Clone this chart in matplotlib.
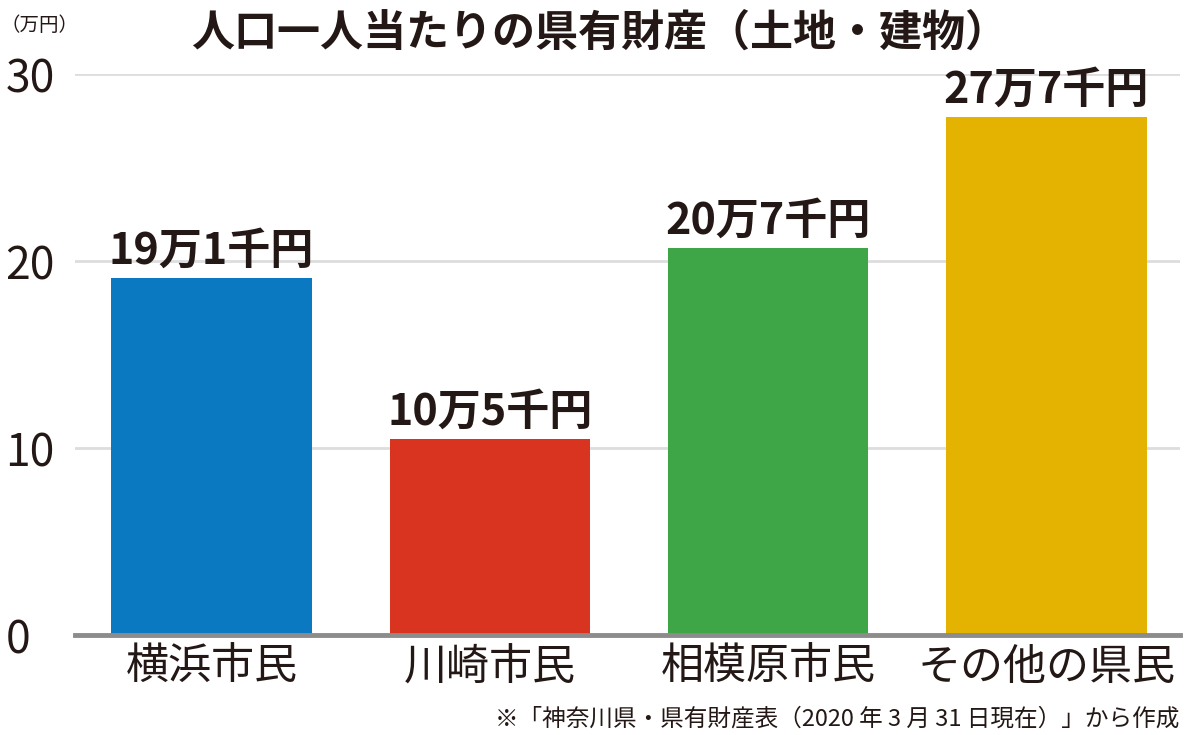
import matplotlib.pyplot as plt
import numpy as np

plt.rcParams['font.family'] = ['Noto Sans CJK JP', 'DejaVu Sans']

# データ
categories = ['横浜市民', '川崎市民', '相模原市民', 'その他の県民']
values = [19.1, 10.5, 20.7, 27.7]
value_labels = ['19万1千円', '10万5千円', '20万7千円', '27万7千円']
colors = ['#0a79c1', '#d8341f', '#3ea647', '#e4b201']
yticks = [0, 10, 20, 30]

title = '人口一人当たりの県有財産（土地・建物）'
unit = '（万円）'
note = '※「神奈川県・県有財産表（2020 年 3 月 31 日現在）」から作成'

fig = plt.figure(figsize=(12, 7.35), dpi=100)
ax = fig.add_axes([0.0625, 0.136, 0.921, 0.763])

x = np.arange(len(categories))
ax.bar(x, values, width=0.72, color=colors, zorder=3)

# 数値ラベル
for xi, v, t in zip(x, values, value_labels):
    ax.annotate(t, (xi, v), xytext=(0, 4), textcoords='offset points',
                ha='center', va='bottom', fontsize=31, fontweight='bold', color='#231815')

ax.set_xlim(-0.49, 3.48)
ax.set_ylim(0, 30)
ax.set_yticks(yticks)
ax.set_yticklabels([str(t) for t in yticks], fontsize=32, color='#231815')
for lb in ax.get_yticklabels():
    lb.set_ha('left')
ax.tick_params(axis='y', length=0, pad=50)
ax.set_xticks(x)
ax.set_xticklabels(categories, fontsize=31, fontweight='normal', color='#231815')
ax.tick_params(axis='x', length=0, pad=8)

# 網目線
ax.grid(axis='y', color='#dddddd', linewidth=2, zorder=0)
ax.grid(axis='x', visible=False)
for s in ['top', 'right', 'left']:
    ax.spines[s].set_visible(False)
ax.spines['bottom'].set_color('#8c8c8c')
ax.spines['bottom'].set_linewidth(3.5)
ax.spines['bottom'].set_zorder(4)

fig.text(0.5, 0.955, title, ha='center', va='center', fontsize=31, fontweight='bold', color='#231815')
fig.text(0.0, 0.965, unit, ha='left', va='center', fontsize=14, color='#231815')
fig.text(0.983, 0.022, note, ha='right', va='center', fontsize=17, color='#231815')

fig.savefig('out.png', dpi=100)
